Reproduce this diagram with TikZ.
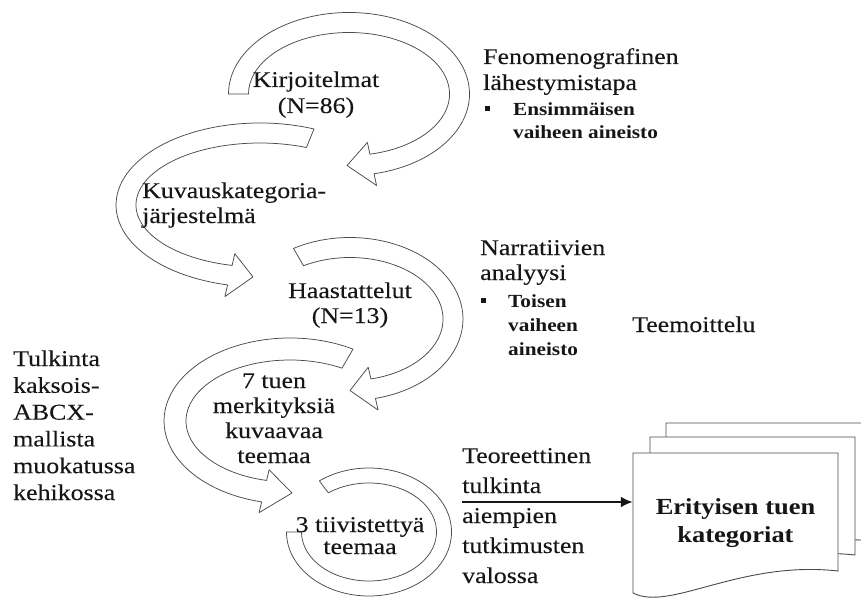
\documentclass[tikz,border=0pt]{standalone}
\usepackage{graphicx}
\usepackage{fontspec}
\setmainfont{Liberation Serif}[UprightFeatures={FakeBold=0.12}]
\usetikzlibrary{calc,arrows.meta}

\definecolor{ink}{HTML}{161616}
\definecolor{edge}{HTML}{4A4A4A}

% wide set text, stacked lines with baseline = first line
\newcommand\wide[1]{\scalebox{1.15}[1]{#1}}
\newcommand\stackL[1]{\wide{\begin{tabular}[t]{@{}l@{}}#1\end{tabular}}}
\newcommand\stackC[1]{\wide{\begin{tabular}[t]{@{}c@{}}#1\end{tabular}}}
\newcommand\sqbullet{\rule[0.22em]{4.5pt}{5pt}}

% ribbon arrow bent along an ellipse:
% #1,#2 centre; #3,#4 mid radii; #5 half width; #6 tail angle; #7 shaft end angle; #8 tip angle
\newcommand\bentarrow[8]{%
  \pgfmathsetmacro\rxo{#3+#5}\pgfmathsetmacro\ryo{#4+#5}%
  \pgfmathsetmacro\rxi{#3-#5}\pgfmathsetmacro\ryi{#4-#5}%
  \pgfmathsetmacro\rxh{#3+22}\pgfmathsetmacro\ryh{#4+22}%
  \pgfmathsetmacro\rxl{#3-22}\pgfmathsetmacro\ryl{#4-22}%
  \draw[ribbon] ($(#1,#2)+(#6:\rxo pt and \ryo pt)$)
    arc[start angle=#6, end angle=#7, x radius=\rxo pt, y radius=\ryo pt]
    -- ($(#1,#2)+(#7:\rxh pt and \ryh pt)$)
    -- ($(#1,#2)+(#8:#3pt and #4pt)$)
    -- ($(#1,#2)+(#7:\rxl pt and \ryl pt)$)
    -- ($(#1,#2)+(#7:\rxi pt and \ryi pt)$)
    arc[start angle=#7, end angle=#6, x radius=\rxi pt, y radius=\ryi pt]
    -- cycle;}

% block arc without a head
\newcommand\blockarc[7]{%
  \pgfmathsetmacro\rxo{#3+#5}\pgfmathsetmacro\ryo{#4+#5}%
  \pgfmathsetmacro\rxi{#3-#5}\pgfmathsetmacro\ryi{#4-#5}%
  \draw[ribbon] ($(#1,#2)+(#6:\rxo pt and \ryo pt)$)
    arc[start angle=#6, end angle=#7, x radius=\rxo pt, y radius=\ryo pt]
    -- ($(#1,#2)+(#7:\rxi pt and \ryi pt)$)
    arc[start angle=#7, end angle=#6, x radius=\rxi pt, y radius=\ryi pt]
    -- cycle;}

% one sheet of the document stack, shifted by (#1,#2)
\newcommand\docsheet[2]{%
  \begin{scope}[shift={(#1,#2)}]
    \draw[docpage] (633,-453) -- (838,-453) -- (838,-571)
      .. controls +(-98,11) and +(37,-19) .. (633,-593) -- cycle;
  \end{scope}}

\tikzset{
  ribbon/.style={draw=edge, line width=0.75pt, fill=white, line join=round},
  docpage/.style={draw=edge, line width=0.9pt, fill=white, line join=miter},
  txt/.style={inner sep=0pt, text=ink, font=\fontsize{22.5}{26}\selectfont},
  bul/.style={inner sep=0pt, text=ink, font=\bfseries\fontsize{18.5}{24}\selectfont},
  flow/.style={line width=2.6pt, draw=ink, -{Latex[length=12pt,width=11pt]}},
}

\begin{document}
\begin{tikzpicture}[x=1pt, y=1pt]
\path[use as bounding box] (0,0) rectangle (861,-599);
\clip (0,0) rectangle (861,-599);

% bent ribbon arrows
\bentarrow{349}{-94}{110.5}{71.5}{10}{180}{-78}{-91}
\bentarrow{260}{-205}{134}{72}{10}{68}{257}{267}
\bentarrow{350}{-319}{103}{71.5}{10}{120}{-77}{-90}
\bentarrow{290}{-421}{115}{72}{11}{60}{257}{271}
\blockarc{369}{-532}{75}{56.5}{7.5}{180}{487}

% stage labels inside the loops
\node[txt, anchor=base] (kirj) at (316,-87) {\stackC{Kirjoitelmat\\(N=86)}};
\node[txt, anchor=base west, font=\fontsize{22.5}{25}\selectfont] (kuva) at (142,-198)
  {\stackL{Kuvauskategoria-\\järjestelmä}};
\node[txt, anchor=base, font=\fontsize{22.5}{25}\selectfont] (haas) at (350,-298)
  {\stackC{Haastattelut\\(N=13)}};
\node[txt, anchor=base, font=\fontsize{22.5}{25}\selectfont] (seven) at (274,-388)
  {\stackC{7 tuen\\merkityksiä\\kuvaavaa\\teemaa}};
\node[txt, anchor=base, font=\fontsize{22.5}{22}\selectfont] (three) at (360,-532)
  {\stackC{3 tiivistettyä\\teemaa}};

% method notes
\node[txt, anchor=base west] (feno) at (483,-64)
  {\stackL{Fenomenografinen\\lähestymistapa}};
\node[bul, anchor=base west] (fenob) at (485,-115)
  {\wide{\begin{tabular}[t]{@{}p{24.3pt}@{}l@{}}\sqbullet & Ensimmäisen\\ & vaiheen aineisto\end{tabular}}};
\node[txt, anchor=base west, font=\fontsize{22.5}{25}\selectfont] (narr) at (480,-255)
  {\stackL{Narratiivien\\analyysi}};
\node[bul, anchor=base west] (narrb) at (481,-307)
  {\wide{\begin{tabular}[t]{@{}p{23.5pt}@{}l@{}}\sqbullet & Toisen\\ & vaiheen\\ & aineisto\end{tabular}}};
\node[txt, anchor=base west] (teem) at (632,-332) {\wide{Teemoittelu}};
\node[txt, anchor=base west, font=\fontsize{22.5}{26.8}\selectfont] (tulk) at (13,-366)
  {\stackL{Tulkinta\\kaksois-\\ABCX-\\mallista\\muokatussa\\kehikossa}};
\node[txt, anchor=base west, font=\fontsize{22.5}{30}\selectfont] (teor) at (462,-463)
  {\stackL{Teoreettinen\\tulkinta\\aiempien\\tutkimusten\\valossa}};

% document stack
\docsheet{33}{30}
\docsheet{17}{16}
\docsheet{0}{0}
\node[inner sep=0pt, minimum width=205pt, minimum height=140pt, text=ink,
      font=\bfseries\fontsize{23}{28}\selectfont] (cat) at (735.5,-523)
  {\stackC{Erityisen tuen\\kategoriat}};

\coordinate (ttail) at (462,-502);
\draw[flow] (ttail) -- (cat.west |- ttail);
\end{tikzpicture}
\end{document}
